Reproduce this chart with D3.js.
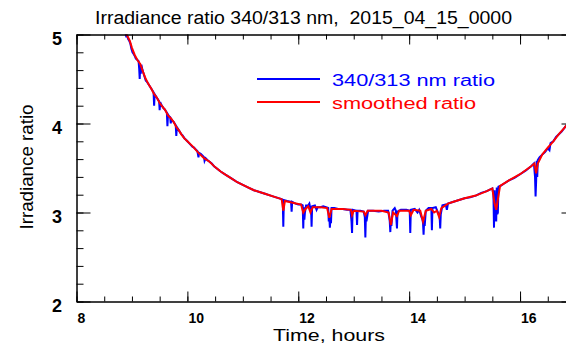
<!DOCTYPE html>
<html>
<head>
<meta charset="utf-8">
<script src="https://cdn.jsdelivr.net/npm/d3@7"></script>
<style>
  body { margin: 0; background: #fff; }
  svg { display: block; }
  text { white-space: pre; }
</style>
</head>
<body>
<div id="chart"></div>
<script>
  var titleText = 'Irradiance ratio 340/313 nm,  2015_04_15_0000';
  var xTitle = 'Time, hours';
  var yTitle = 'Irradiance ratio';
  var xTicks = [8, 10, 12, 14, 16];
  var yTicks = [2, 3, 4, 5];
  var seriesNames = ['340/313 nm ratio', 'smoothed ratio'];

  // [hour, ratio]
  var rawRatio = [
    [8.88, 5.02], [8.90, 4.97], [8.91, 5.00], [8.93, 4.95], [8.95, 4.93], [8.97, 4.90], [8.99, 4.84],
    [9.01, 4.80], [9.03, 4.78], [9.05, 4.76], [9.07, 4.73], [9.09, 4.72], [9.12, 4.70], [9.13, 4.62],
    [9.14, 4.50], [9.15, 4.66], [9.16, 4.56], [9.17, 4.66], [9.19, 4.60], [9.21, 4.56], [9.23, 4.52],
    [9.25, 4.48], [9.27, 4.47], [9.29, 4.45], [9.31, 4.43], [9.33, 4.41], [9.35, 4.39], [9.37, 4.37],
    [9.39, 4.35], [9.40, 4.20], [9.41, 4.33], [9.43, 4.31], [9.45, 4.29], [9.47, 4.27], [9.49, 4.25],
    [9.50, 4.15], [9.51, 4.24], [9.53, 4.21], [9.55, 4.19], [9.57, 4.17], [9.59, 4.16], [9.61, 4.14],
    [9.63, 4.12], [9.64, 3.97], [9.65, 4.10], [9.67, 4.08], [9.69, 4.07], [9.70, 4.00], [9.71, 4.05],
    [9.73, 4.03], [9.75, 4.02], [9.77, 4.00], [9.79, 3.98], [9.80, 3.86], [9.81, 3.96], [9.83, 3.94],
    [9.85, 3.92], [9.87, 3.90], [9.89, 3.88], [9.91, 3.87], [9.93, 3.85], [9.95, 3.83], [9.97, 3.82],
    [10.00, 3.80], [10.03, 3.78], [10.06, 3.76], [10.09, 3.74], [10.12, 3.73], [10.15, 3.71], [10.18, 3.69],
    [10.20, 3.62], [10.21, 3.67], [10.24, 3.66], [10.27, 3.64], [10.30, 3.62], [10.31, 3.58], [10.33, 3.61],
    [10.36, 3.59], [10.40, 3.57], [10.44, 3.55], [10.48, 3.52], [10.52, 3.50], [10.56, 3.48], [10.60, 3.46],
    [10.65, 3.44], [10.70, 3.42], [10.75, 3.40], [10.80, 3.38], [10.85, 3.36], [10.90, 3.34], [11.00, 3.31],
    [11.10, 3.28], [11.20, 3.25], [11.30, 3.23], [11.40, 3.21], [11.50, 3.19], [11.60, 3.17], [11.70, 3.15],
    [11.72, 3.14], [11.73, 2.84], [11.74, 3.14], [11.80, 3.13], [11.87, 3.12], [11.88, 3.01], [11.89, 3.12],
    [11.95, 3.10], [12.00, 3.09], [12.05, 3.09], [12.08, 3.08], [12.09, 2.82], [12.10, 3.06], [12.11, 2.92],
    [12.12, 3.00], [12.14, 3.08], [12.18, 3.08], [12.20, 3.10], [12.22, 3.04], [12.23, 3.07], [12.24, 2.84],
    [12.25, 3.07], [12.30, 3.08], [12.33, 3.03], [12.35, 3.06], [12.40, 3.06], [12.45, 3.07], [12.50, 3.06],
    [12.54, 3.05], [12.55, 2.90], [12.56, 2.95], [12.57, 2.83], [12.58, 2.95], [12.59, 2.88], [12.60, 3.05],
    [12.65, 3.05], [12.72, 3.04], [12.80, 3.04], [12.88, 3.03], [12.94, 3.03], [12.95, 2.97], [12.96, 2.90],
    [12.97, 2.77], [12.98, 3.03], [13.05, 3.02], [13.06, 2.86], [13.07, 3.02], [13.12, 3.02], [13.18, 3.01],
    [13.20, 2.95], [13.21, 2.72], [13.22, 2.98], [13.23, 2.90], [13.26, 3.02], [13.35, 3.02], [13.45, 3.01],
    [13.55, 3.02], [13.62, 3.02], [13.64, 2.95], [13.65, 2.90], [13.66, 2.78], [13.67, 2.92], [13.68, 2.85],
    [13.70, 3.02], [13.74, 3.05], [13.76, 3.02], [13.78, 2.82], [13.79, 3.01], [13.85, 3.03], [13.95, 3.03],
    [14.01, 3.02], [14.02, 2.77], [14.03, 3.03], [14.10, 3.04], [14.15, 3.00], [14.18, 3.03], [14.22, 2.95],
    [14.24, 2.92], [14.25, 2.88], [14.26, 2.75], [14.27, 2.90], [14.28, 2.85], [14.30, 3.02], [14.35, 3.05],
    [14.40, 3.05], [14.41, 2.80], [14.42, 3.05], [14.48, 3.06], [14.52, 3.00], [14.55, 2.95], [14.56, 2.82],
    [14.57, 2.98], [14.60, 3.08], [14.66, 3.09], [14.68, 3.03], [14.70, 3.10], [14.80, 3.12], [14.90, 3.14],
    [15.00, 3.16], [15.10, 3.17], [15.20, 3.19], [15.30, 3.22], [15.40, 3.24], [15.50, 3.27], [15.52, 3.20],
    [15.53, 2.83], [15.54, 3.25], [15.55, 3.00], [15.56, 2.95], [15.57, 2.90], [15.58, 3.28], [15.59, 2.98],
    [15.60, 3.00], [15.61, 3.29], [15.65, 3.30], [15.70, 3.32], [15.80, 3.36], [15.90, 3.39], [16.00, 3.43],
    [16.10, 3.47], [16.20, 3.52], [16.25, 3.55], [16.27, 3.40], [16.28, 3.18], [16.29, 3.35], [16.30, 3.58],
    [16.31, 3.40], [16.32, 3.59], [16.35, 3.62], [16.40, 3.65], [16.45, 3.68], [16.50, 3.72], [16.53, 3.70],
    [16.55, 3.78], [16.60, 3.80], [16.65, 3.85], [16.70, 3.88], [16.75, 3.91], [16.80, 3.95], [16.85, 3.99],
    [16.90, 4.03]
  ];

  var smoothRatio = [
    [8.88, 5.02], [8.92, 4.98], [8.96, 4.93], [9.00, 4.85], [9.05, 4.77], [9.10, 4.71], [9.15, 4.67],
    [9.20, 4.58], [9.25, 4.50], [9.30, 4.44], [9.35, 4.39], [9.40, 4.33], [9.45, 4.29], [9.50, 4.23],
    [9.55, 4.19], [9.60, 4.15], [9.65, 4.09], [9.70, 4.06], [9.75, 4.02], [9.80, 3.96], [9.85, 3.92],
    [9.90, 3.87], [9.95, 3.83], [10.00, 3.80], [10.10, 3.74], [10.20, 3.67], [10.30, 3.61], [10.40, 3.57],
    [10.50, 3.51], [10.60, 3.46], [10.70, 3.42], [10.80, 3.38], [10.90, 3.34], [11.00, 3.31], [11.20, 3.25],
    [11.40, 3.21], [11.60, 3.17], [11.70, 3.15], [11.73, 3.02], [11.76, 3.13], [11.90, 3.11], [12.05, 3.09],
    [12.09, 3.00], [12.13, 3.04], [12.18, 3.07], [12.22, 3.00], [12.26, 3.06], [12.40, 3.06], [12.52, 3.05],
    [12.56, 2.94], [12.60, 3.04], [12.80, 3.04], [12.95, 3.03], [12.97, 2.97], [13.00, 3.02], [13.18, 3.01],
    [13.21, 2.97], [13.25, 3.02], [13.50, 3.02], [13.63, 3.00], [13.67, 2.86], [13.71, 3.00], [13.78, 2.96],
    [13.82, 3.02], [14.00, 3.02], [14.03, 2.97], [14.08, 3.03], [14.20, 3.02], [14.25, 2.90], [14.30, 3.02],
    [14.40, 3.04], [14.45, 3.00], [14.50, 3.02], [14.54, 2.95], [14.58, 3.05], [14.70, 3.10], [14.80, 3.12],
    [15.00, 3.16], [15.20, 3.19], [15.40, 3.24], [15.50, 3.27], [15.54, 3.10], [15.57, 3.03], [15.60, 3.15],
    [15.64, 3.30], [15.80, 3.36], [16.00, 3.43], [16.20, 3.52], [16.26, 3.55], [16.29, 3.44], [16.32, 3.55],
    [16.40, 3.65], [16.50, 3.73], [16.60, 3.80], [16.70, 3.88], [16.80, 3.95], [16.90, 4.03]
  ];

  var font = "'Liberation Sans', Arial, Helvetica, sans-serif";
  var colors = ['#0000ff', '#ff0000'];

  var svg = d3.select('#chart')
    .append('svg')
    .attr('width', 566)
    .attr('height', 346)
    .style('font-family', font);

  var x = d3.scaleLinear().domain([8, 17]).range([76.5, 575.5]);
  var y = d3.scaleLinear().domain([2, 5]).range([301.5, 34.5]);

  svg.append('clipPath')
    .attr('id', 'plot-clip')
    .append('rect')
    .attr('x', x(8))
    .attr('y', y(5))
    .attr('width', x(17) - x(8))
    .attr('height', y(2) - y(5));

  // data lines
  var line = d3.line()
    .x(function (d) { return x(d[0]); })
    .y(function (d) { return y(d[1]); });

  var plot = svg.append('g').attr('clip-path', 'url(#plot-clip)');
  [rawRatio, smoothRatio].forEach(function (series, i) {
    plot.append('path')
      .datum(series)
      .attr('d', line)
      .attr('fill', 'none')
      .attr('stroke', colors[i])
      .attr('stroke-width', 2);
  });

  // axes, ticks pointing inward
  function axis(gen, scale, values, size, tx, ty) {
    svg.append('g')
      .attr('transform', 'translate(' + tx + ',' + ty + ')')
      .call(gen(scale).tickValues(values).tickSize(-size).tickSizeOuter(0).tickFormat(''))
      .call(function (g) {
        g.selectAll('line, path').attr('stroke', '#000').attr('stroke-width', 1);
      });
  }
  var xMinor = x.ticks(18), yMinor = y.ticks(15);
  axis(d3.axisBottom, x, xMinor, 5, 0, y(2));
  axis(d3.axisBottom, x, xTicks, 10, 0, y(2));
  axis(d3.axisTop, x, xMinor, 5, 0, y(5));
  axis(d3.axisTop, x, xTicks, 10, 0, y(5));
  axis(d3.axisLeft, y, yMinor, 7, x(8), 0);
  axis(d3.axisLeft, y, yTicks, 14, x(8), 0);
  axis(d3.axisRight, y, yMinor, 7, x(17), 0);
  axis(d3.axisRight, y, yTicks, 14, x(17), 0);

  // tick labels
  svg.append('g').selectAll('text')
    .data(xTicks)
    .enter()
    .append('text')
    .attr('x', function (d) { return x(d) + 1; })
    .attr('y', 323)
    .attr('font-size', 14)
    .attr('font-weight', 'bold')
    .text(function (d) { return d; });

  svg.append('g').selectAll('text')
    .data(yTicks)
    .enter()
    .append('text')
    .attr('x', 62)
    .attr('y', function (d) { return y(d) + 10; })
    .attr('text-anchor', 'end')
    .attr('font-size', 18)
    .attr('font-weight', 'bold')
    .text(function (d) { return d; });

  // titles
  svg.append('text')
    .attr('x', 95)
    .attr('y', 24)
    .attr('font-size', 18)
    .attr('textLength', 417)
    .attr('lengthAdjust', 'spacingAndGlyphs')
    .text(titleText);

  svg.append('text')
    .attr('x', 329)
    .attr('y', 341)
    .attr('text-anchor', 'middle')
    .attr('font-size', 17)
    .attr('textLength', 112)
    .attr('lengthAdjust', 'spacingAndGlyphs')
    .text(xTitle);

  svg.append('text')
    .attr('transform', 'translate(33,167) rotate(-90)')
    .attr('text-anchor', 'middle')
    .attr('font-size', 19)
    .attr('textLength', 125)
    .attr('lengthAdjust', 'spacingAndGlyphs')
    .text(yTitle);

  // legend
  var legend = svg.append('g');
  seriesNames.forEach(function (name, i) {
    var ly = 79 + i * 23;
    legend.append('line')
      .attr('x1', 257).attr('x2', 320)
      .attr('y1', ly).attr('y2', ly)
      .attr('stroke', colors[i])
      .attr('stroke-width', 2);
    legend.append('text')
      .attr('x', 332)
      .attr('y', ly + 7)
      .attr('font-size', 16)
      .attr('fill', colors[i])
      .attr('textLength', i === 0 ? 163 : 144)
      .attr('lengthAdjust', 'spacingAndGlyphs')
      .text(name);
  });
</script>
</body>
</html>
